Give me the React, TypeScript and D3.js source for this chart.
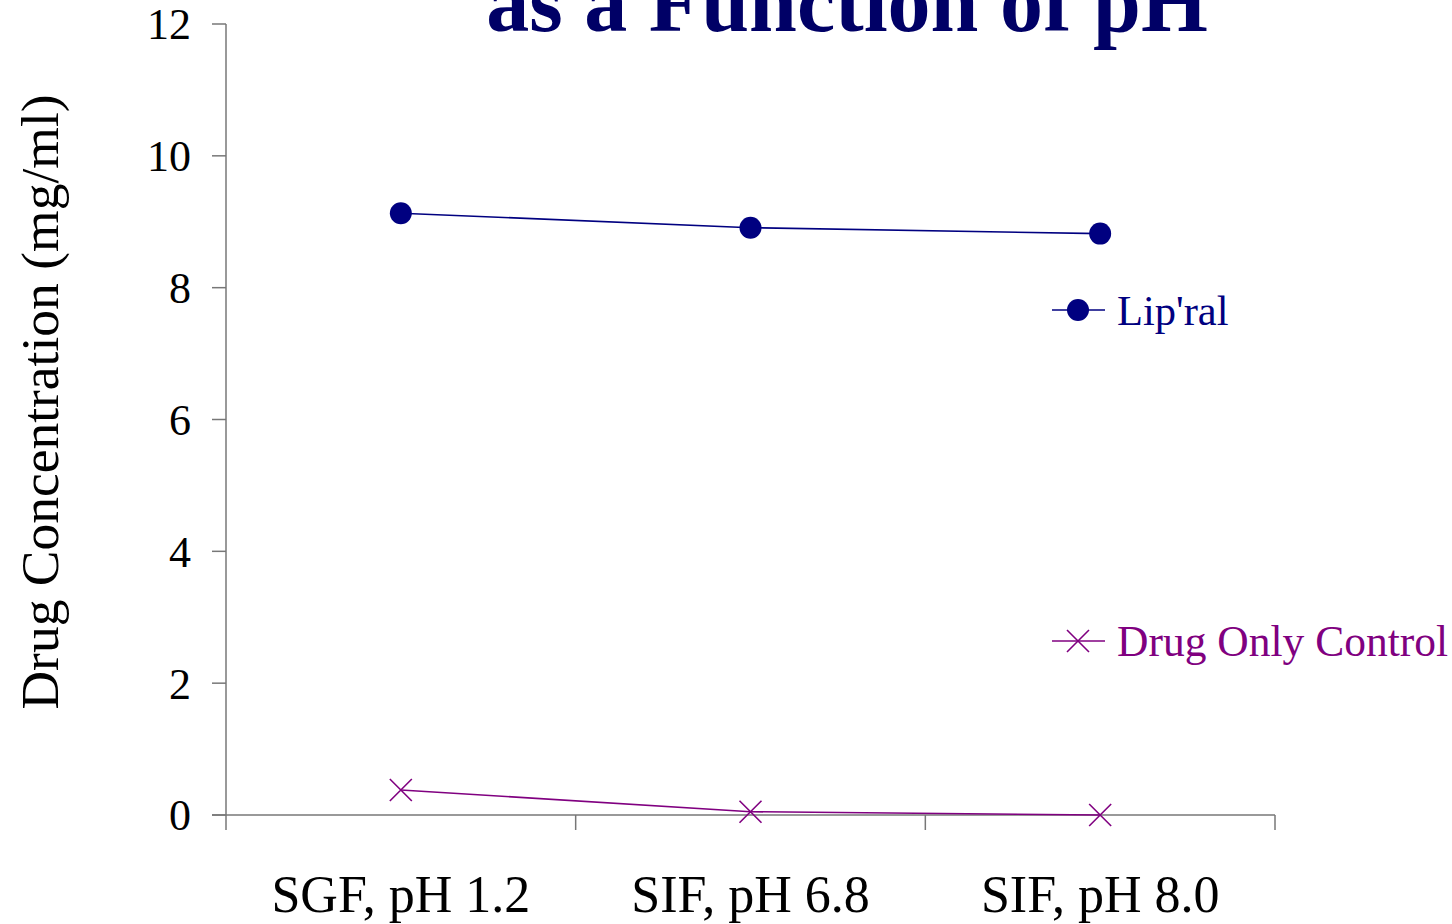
import React from "react";
import * as d3 from "d3";

const categories = ["SGF, pH 1.2", "SIF, pH 6.8", "SIF, pH 8.0"];
const lipralValues = [9.13, 8.91, 8.82];
const controlValues = [0.38, 0.05, 0.0];
const yTicks = [0, 2, 4, 6, 8, 10, 12];
const seriesNames = ["Lip'ral", "Drug Only Control"];
const titleText = "as a Function of pH";
const yTitle = "Drug Concentration (mg/ml)";

const W = 1452;
const H = 924;
const FONT = "'Liberation Serif', 'Times New Roman', serif";
const NAVY = "#000080";
const PURPLE = "#800080";
const AXIS = "#777777";

export default function App() {
  const x = d3.scaleBand<string>().domain(categories).range([226, 1275]).padding(0);
  const y = d3.scaleLinear().domain([0, 12]).range([815, 24]);
  const cx = (c: string) => (x(c) as number) + x.bandwidth() / 2;
  const line = d3
    .line<number>()
    .x((_, i) => cx(categories[i]))
    .y((d) => y(d));

  const xMarker = (px: number, py: number, s: number, key: string) => (
    <path key={key} d={`M${px - s},${py - s}L${px + s},${py + s}M${px - s},${py + s}L${px + s},${py - s}`} stroke={PURPLE} strokeWidth={1.6} fill="none" />
  );

  const bounds = [x.range()[0], ...categories.map((c) => (x(c) as number) + x.bandwidth())];

  return (
    <svg width={W} height={H} style={{ position: "absolute", left: 0, top: 0, background: "#fff" }} fontFamily={FONT}>
      <text x={847} y={31} textAnchor="middle" fontSize={86} fontWeight="bold" fill="#000066">
        {titleText}
      </text>
      {/* axes */}
      <line x1={226} x2={226} y1={y(12)} y2={830} stroke={AXIS} strokeWidth={1.5} />
      <line x1={212} x2={1275} y1={y(0)} y2={y(0)} stroke={AXIS} strokeWidth={1.5} />
      {yTicks.map((t) => (
        <g key={t}>
          <line x1={212} x2={226} y1={y(t)} y2={y(t)} stroke={AXIS} strokeWidth={1.5} />
          <text x={191} y={y(t)} dy="0.35em" textAnchor="end" fontSize={44} fill="#000">
            {t}
          </text>
        </g>
      ))}
      {bounds.slice(1).map((b, i) => (
        <line key={i} x1={b} x2={b} y1={y(0)} y2={830} stroke={AXIS} strokeWidth={1.5} />
      ))}
      {categories.map((c) => (
        <text key={c} x={cx(c)} y={912} textAnchor="middle" fontSize={52} fill="#000">
          {c}
        </text>
      ))}
      <text transform={`translate(58,402) rotate(-90)`} textAnchor="middle" fontSize={53.5} fill="#000">
        {yTitle}
      </text>
      {/* series */}
      <path d={line(lipralValues) || ""} fill="none" stroke={NAVY} strokeWidth={1.6} />
      {lipralValues.map((v, i) => (
        <circle key={i} cx={cx(categories[i])} cy={y(v)} r={11} fill={NAVY} />
      ))}
      <path d={line(controlValues) || ""} fill="none" stroke={PURPLE} strokeWidth={1.6} />
      {controlValues.map((v, i) => xMarker(cx(categories[i]), y(v), 11, "c" + i))}
      {/* legend */}
      <line x1={1052} x2={1105} y1={310} y2={310} stroke={NAVY} strokeWidth={1.6} />
      <circle cx={1078} cy={310} r={11} fill={NAVY} />
      <text x={1117} y={325} fontSize={42.5} fill={NAVY}>
        {seriesNames[0]}
      </text>
      <line x1={1052} x2={1105} y1={641} y2={641} stroke={PURPLE} strokeWidth={1.6} />
      {xMarker(1078, 641, 11, "lg")}
      <text x={1117} y={656} fontSize={43.5} fill={PURPLE}>
        {seriesNames[1]}
      </text>
    </svg>
  );
}
